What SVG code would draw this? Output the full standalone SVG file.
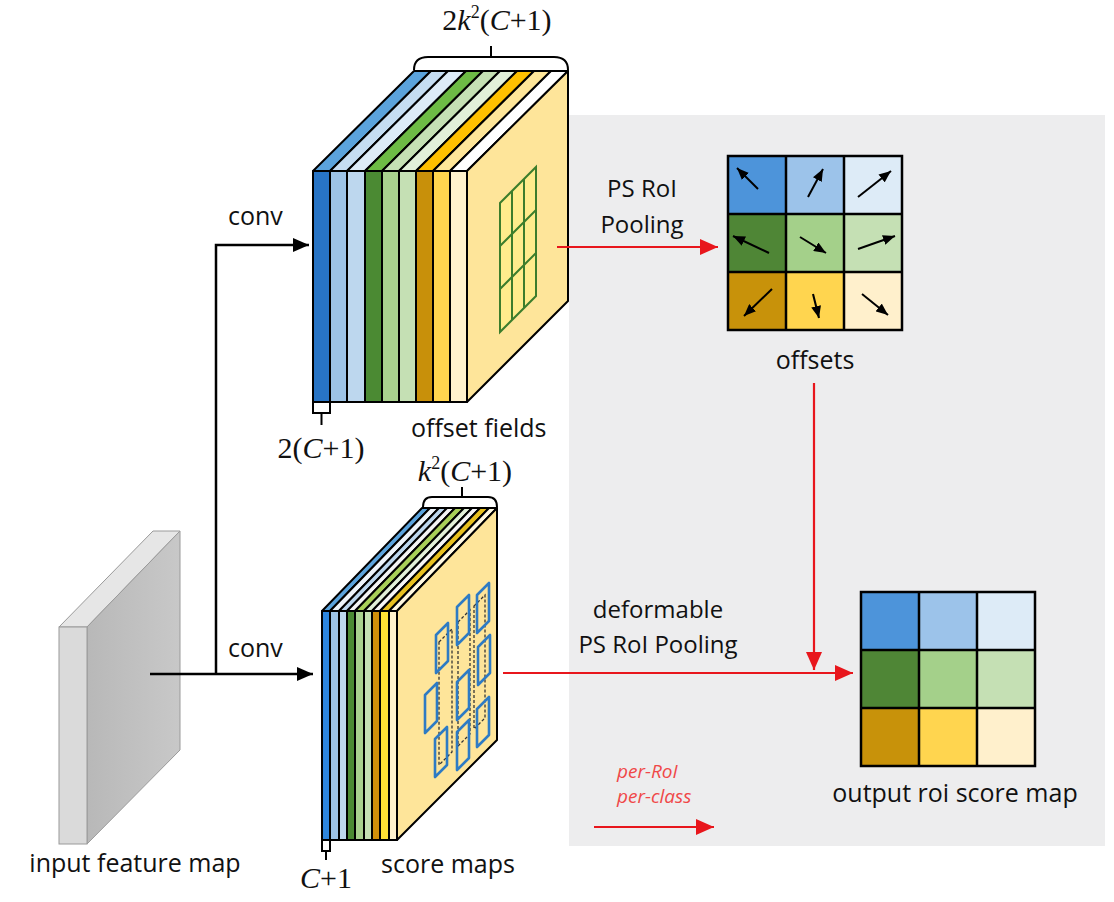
<svg xmlns="http://www.w3.org/2000/svg" width="1114" height="902" viewBox="0 0 1114 902">
<defs>
<style>
.sans{font-family:"Open Sans","Noto Sans","Liberation Sans",sans-serif;fill:#111;}
.serif{font-family:"Liberation Serif","DejaVu Serif",serif;fill:#111;}
.ed{stroke:#000;stroke-width:2;stroke-linejoin:round;}
.blk{fill:none;stroke:#000;stroke-width:2.5;}
.red{fill:none;stroke:#E8161C;stroke-width:2.2;}
.grid{fill:none;stroke:#000;stroke-width:2.5;}
.sm{fill:none;stroke:#000;stroke-width:2;}
.pg{fill:none;stroke:#2E7BC4;stroke-width:2.6;stroke-linejoin:round;}
.dash{fill:none;stroke:#333;stroke-width:1.3;stroke-dasharray:3 2;}
.gl{fill:none;stroke:#3C7D2C;stroke-width:2;}
</style>
<marker id="ab" viewBox="0 0 16 14" refX="16" refY="7" markerWidth="16" markerHeight="14" markerUnits="userSpaceOnUse" orient="auto"><path d="M0,0 L16,7 L0,14 z" fill="#000"/></marker>
<marker id="ar" viewBox="0 0 18 16" refX="18" refY="8" markerWidth="18" markerHeight="16" markerUnits="userSpaceOnUse" orient="auto"><path d="M0,0 L18,8 L0,16 z" fill="#E8161C"/></marker>
<marker id="as" viewBox="0 0 12 10" refX="12" refY="5" markerWidth="12" markerHeight="10" markerUnits="userSpaceOnUse" orient="auto"><path d="M0,0 L12,5 L0,10 z" fill="#000"/></marker>
<linearGradient id="side" x1="0" y1="0" x2="1" y2="0"><stop offset="0" stop-color="#B8B8B8"/><stop offset="1" stop-color="#C8C8C8"/></linearGradient>
</defs>
<rect width="1114" height="902" fill="#FFFFFF"/>
<rect x="569" y="115" width="536" height="731" fill="#EDEDEE"/>

<g id="input-feature-map">
<polygon points="59,627 87,627 180,531 153,531" fill="#E6E6E6" stroke="#9A9A9A" stroke-width="1"/>
<polygon points="87,627 180,531 180,750 87,844" fill="url(#side)" stroke="#9A9A9A" stroke-width="1"/>
<rect x="59" y="627" width="28" height="217" fill="#DADADA" stroke="#9A9A9A" stroke-width="1"/>
<text class="sans" x="135" y="872" font-size="25" text-anchor="middle">input feature map</text>
</g>

<g id="offset-fields">
<g class="ed">
<polygon points="313,171 330,171 431,71 414,71" fill="#5BA3DC"/>
<polygon points="330,171 347,171 448,71 431,71" fill="#C5DDF2"/>
<polygon points="347,171 365,171 466,71 448,71" fill="#DDEBF7"/>
<polygon points="365,171 382,171 483,71 466,71" fill="#6DBB45"/>
<polygon points="382,171 399,171 500,71 483,71" fill="#C5E0B4"/>
<polygon points="399,171 416,171 517,71 500,71" fill="#E2F0D9"/>
<polygon points="416,171 433,171 534,71 517,71" fill="#FFC000"/>
<polygon points="433,171 450,171 551,71 534,71" fill="#FFE699"/>
<polygon points="450,171 467,171 568,71 551,71" fill="#FFFFFF"/>
<polygon points="467,171 568,71 568,301 467,402" fill="#FEE59A"/>
<rect x="313" y="171" width="17" height="231" fill="#2874C5"/>
<rect x="330" y="171" width="17" height="231" fill="#9DC3E6"/>
<rect x="347" y="171" width="18" height="231" fill="#BDD7EE"/>
<rect x="365" y="171" width="17" height="231" fill="#4B8A33"/>
<rect x="382" y="171" width="17" height="231" fill="#A9D18E"/>
<rect x="399" y="171" width="17" height="231" fill="#C5E0B4"/>
<rect x="416" y="171" width="17" height="231" fill="#C8900A"/>
<rect x="433" y="171" width="17" height="231" fill="#FFD54F"/>
<rect x="450" y="171" width="17" height="231" fill="#FFF2CC"/>
</g>
<polygon points="500,203 536,167 536,296 500,332" fill="#FFEC8C"/>
<path class="gl" d="M500,203 L536,167 L536,296 L500,332 Z M512,191 V320 M524,179 V308 M500,246 L536,210 M500,289 L536,253"/>
<path class="sm" d="M414,70 C414,61 419,57 428,57 L554,57 C563,57 568,61 568,70 M491,57 V46"/>
<path class="sm" d="M313,402 V413 H330 V402 M321.5,413 V425"/>
<text class="serif" x="497" y="30" font-size="30" text-anchor="middle">2<tspan font-style="italic">k</tspan><tspan font-size="18" dy="-12">2</tspan><tspan dy="12">(</tspan><tspan font-style="italic">C</tspan>+1)</text>
<text class="serif" x="321" y="458" font-size="30" text-anchor="middle">2(<tspan font-style="italic">C</tspan>+1)</text>
<text class="sans" x="411" y="437" font-size="25">offset fields</text>
</g>

<g id="score-maps">
<g class="ed">
<polygon points="322,611 330,611 430,508 422,508" fill="#5BA3DC"/>
<polygon points="330,611 339,611 439,508 430,508" fill="#EEF4FA"/>
<polygon points="339,611 347,611 447,508 439,508" fill="#BDD7EE"/>
<polygon points="347,611 355,611 455,508 447,508" fill="#F4F4F4"/>
<polygon points="355,611 364,611 464,508 455,508" fill="#A8CF58"/>
<polygon points="364,611 372,611 472,508 464,508" fill="#E2F0D9"/>
<polygon points="372,611 380,611 480,508 472,508" fill="#F6F6F6"/>
<polygon points="380,611 389,611 489,508 480,508" fill="#E8C020"/>
<polygon points="389,611 397,611 497,508 489,508" fill="#FFF8E0"/>
<polygon points="397,611 497,508 497,740 397,840" fill="#FEE59A"/>
<rect x="322" y="611" width="8" height="229" fill="#2E86DE"/>
<rect x="330" y="611" width="9" height="229" fill="#9DC3E6"/>
<rect x="339" y="611" width="8" height="229" fill="#BDD7EE"/>
<rect x="347" y="611" width="8" height="229" fill="#4B8A33"/>
<rect x="355" y="611" width="9" height="229" fill="#A9D18E"/>
<rect x="364" y="611" width="8" height="229" fill="#C5E0B4"/>
<rect x="372" y="611" width="8" height="229" fill="#D0900A"/>
<rect x="380" y="611" width="9" height="229" fill="#FFE135"/>
<rect x="389" y="611" width="8" height="229" fill="#FFF2CC"/>
</g>
<path class="dash" d="M439,642 L452,629 L452,752 L439,765 Z M458,622 L470,610 L470,734 L458,746 Z M474,606 L485,595 L485,718 L474,729 Z"/>
<g class="pg">
<polygon points="436,635 448,623 448,661 436,673"/>
<polygon points="457,607 469,595 469,633 457,645"/>
<polygon points="477,595 489,583 489,621 477,633"/>
<polygon points="425,695 437,683 437,721 425,733"/>
<polygon points="457,682 469,670 469,708 457,720"/>
<polygon points="478,647 490,635 490,673 478,685"/>
<polygon points="435,739 447,727 447,765 435,777"/>
<polygon points="457,732 469,720 469,758 457,770"/>
<polygon points="477,709 489,697 489,735 477,747"/>
</g>
<path class="sm" d="M423,507 C423,500 426,497 432,497 L488,497 C494,497 497,500 497,507 M462,497 V487"/>
<path class="sm" d="M322,840 V851 H330 V840 M326,851 V860"/>
<text class="serif" x="465" y="481" font-size="30" text-anchor="middle"><tspan font-style="italic">k</tspan><tspan font-size="18" dy="-12">2</tspan><tspan dy="12">(</tspan><tspan font-style="italic">C</tspan>+1)</text>
<text class="serif" x="326" y="888" font-size="30" text-anchor="middle"><tspan font-style="italic">C</tspan>+1</text>
<text class="sans" x="381" y="873" font-size="25">score maps</text>
</g>

<g id="offsets">
<rect x="728" y="156" width="58" height="58" fill="#4D94DA"/>
<rect x="786" y="156" width="58" height="58" fill="#9CC3EA"/>
<rect x="844" y="156" width="58" height="58" fill="#DDEBF7"/>
<rect x="728" y="214" width="58" height="58" fill="#4F8636"/>
<rect x="786" y="214" width="58" height="58" fill="#A4D08A"/>
<rect x="844" y="214" width="58" height="58" fill="#C5E0B4"/>
<rect x="728" y="272" width="58" height="58" fill="#C8920A"/>
<rect x="786" y="272" width="58" height="58" fill="#FFD54F"/>
<rect x="844" y="272" width="58" height="58" fill="#FFF0CC"/>
<path class="grid" d="M728,156 H902 V330 H728 Z M786,156 V330 M844,156 V330 M728,214 H902 M728,272 H902"/>
<g class="sm" marker-end="url(#as)">
<path d="M758,189 L737,168"/>
<path d="M808,197 L823,169"/>
<path d="M858,197 L891,171"/>
<path d="M769,253 L733,236"/>
<path d="M800,237 L826,253"/>
<path d="M858,249 L895,236"/>
<path d="M772,289 L744,316"/>
<path d="M813,294 L819,318"/>
<path d="M862,294 L888,315"/>
</g>
<text class="sans" x="815" y="369" font-size="25" text-anchor="middle">offsets</text>
</g>

<g id="output-roi-score-map">
<rect x="861" y="592" width="58" height="58" fill="#4D94DA"/>
<rect x="919" y="592" width="58" height="58" fill="#9CC3EA"/>
<rect x="977" y="592" width="58" height="58" fill="#DDEBF7"/>
<rect x="861" y="650" width="58" height="58" fill="#4F8636"/>
<rect x="919" y="650" width="58" height="58" fill="#A4D08A"/>
<rect x="977" y="650" width="58" height="58" fill="#C5E0B4"/>
<rect x="861" y="708" width="58" height="58" fill="#C8920A"/>
<rect x="919" y="708" width="58" height="58" fill="#FFD54F"/>
<rect x="977" y="708" width="58" height="58" fill="#FFF0CC"/>
<path class="grid" d="M861,592 H1035 V766 H861 Z M919,592 V766 M977,592 V766 M861,650 H1035 M861,708 H1035"/>
<text class="sans" x="955" y="802" font-size="25" text-anchor="middle">output roi score map</text>
</g>

<g id="connectors">
<path class="blk" d="M150,674 H313" marker-end="url(#ab)"/>
<path class="blk" d="M216,674 V245 H309" marker-end="url(#ab)"/>
<path class="red" d="M557,247 H718" marker-end="url(#ar)"/>
<path class="red" d="M814,383 V670" marker-end="url(#ar)"/>
<path class="red" d="M503,673 H853" marker-end="url(#ar)"/>
<path class="red" d="M594,827 H714" marker-end="url(#ar)"/>
<text class="sans" x="228" y="225" font-size="25">conv</text>
<text class="sans" x="228" y="657" font-size="25">conv</text>
<text class="sans" x="642" y="197" font-size="24" text-anchor="middle">PS RoI</text>
<text class="sans" x="642" y="233" font-size="24" text-anchor="middle">Pooling</text>
<text class="sans" x="658" y="618" font-size="24" text-anchor="middle">deformable</text>
<text class="sans" x="658" y="653" font-size="24" text-anchor="middle">PS RoI Pooling</text>
<text x="617" y="778" font-size="19" font-style="italic" font-family="'Open Sans','Liberation Sans',sans-serif" fill="#F04848">per-RoI</text>
<text x="617" y="803" font-size="19" font-style="italic" font-family="'Open Sans','Liberation Sans',sans-serif" fill="#F04848">per-class</text>
</g>
</svg>
